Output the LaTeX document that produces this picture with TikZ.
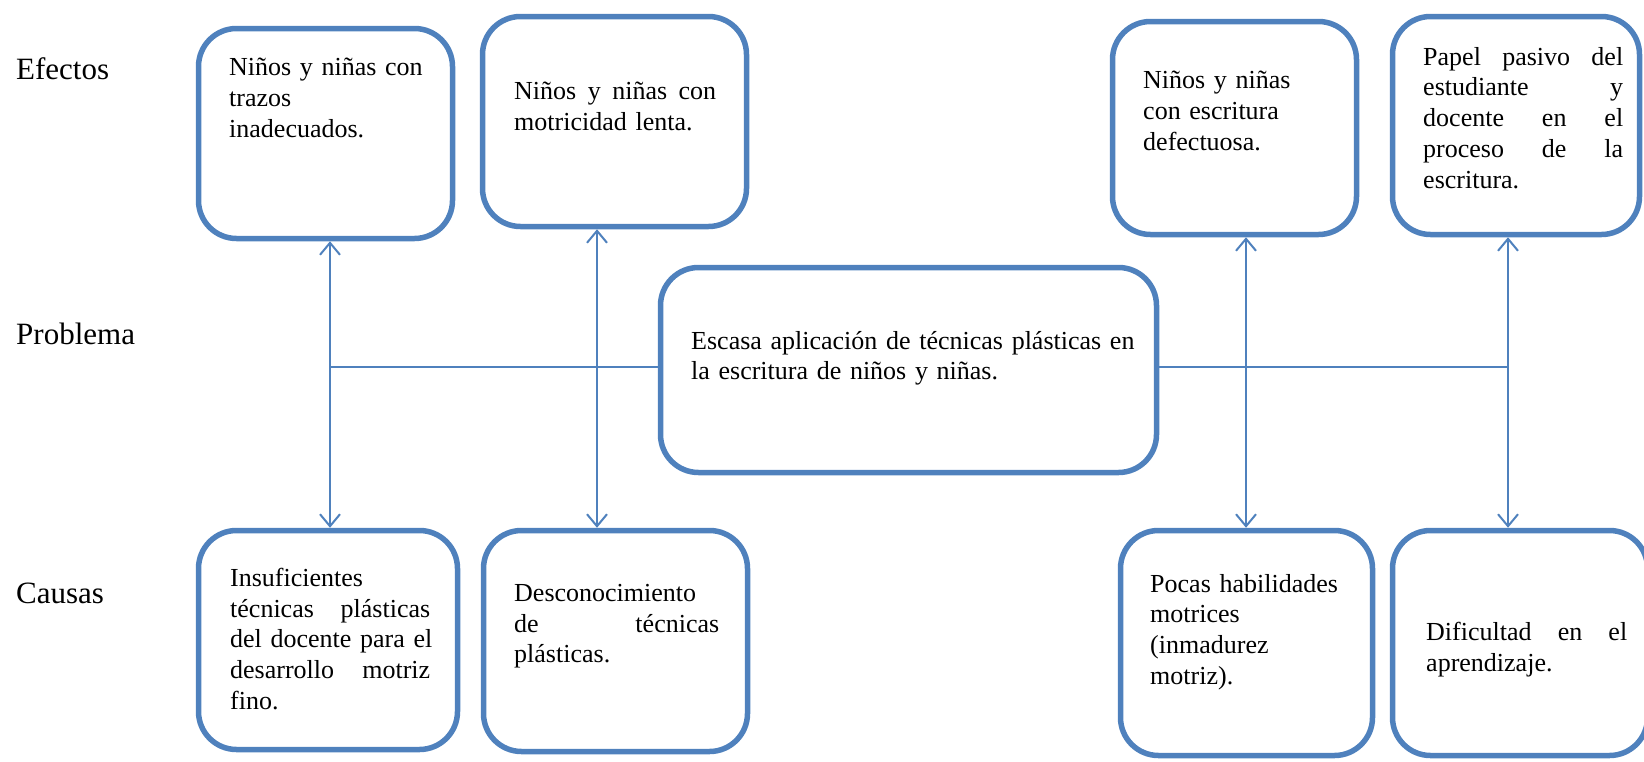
\documentclass[tikz,border=0pt]{standalone}
\usepackage{fontspec}
\setmainfont{Liberation Serif}
\usetikzlibrary{arrows.meta}
\definecolor{boxblue}{HTML}{4F81BD}

\begin{document}
\begin{tikzpicture}[x=1pt,y=-1pt,
    box/.style={draw=boxblue,line width=5.5pt,rounded corners=38pt,inner sep=0pt},
    txt/.style={anchor=north west,inner sep=0pt,align=left,font=\fontsize{26}{30.7}\selectfont},
    lab/.style={anchor=base west,inner sep=0pt,font=\fontsize{31}{36}\selectfont},
    link/.style={draw=boxblue,line width=1.8pt},
    arr/.style={link,line width=2pt,{Straight Barb[length=12pt,width=20pt]}-{Straight Barb[length=12pt,width=20pt]}}]
                \useasboundingbox (0,0) rectangle (1644,761);

                % row labels
                \node[lab] (efe) at (16,79) {Efectos};
                \node[lab] (pro) at (16,344) {Problema};
                \node[lab] (cau) at (16,603) {Causas};

                % effects
                \node[box,minimum width=254pt,minimum height=210pt] (e1) at (325.5,133.5) {};
                \node[box,minimum width=264pt,minimum height=210pt] (e2) at (614.5,121.5) {};
                \node[box,minimum width=244pt,minimum height=213pt] (e3) at (1234.5,128) {};
                \node[box,minimum width=247pt,minimum height=218pt] (e4) at (1516,125.5) {};
                \node[txt,text width=215pt] (e1t) at (229,58) {Niños y niñas con\\trazos\\inadecuados.};
                \node[txt,text width=202pt] (e2t) at (514,82) {Niños \hfill y \hfill niñas \hfill con\\motricidad lenta.};
                \node[txt,text width=190pt] (e3t) at (1143,71) {Niños y niñas\\con escritura\\defectuosa.};
                \node[txt,text width=200pt] (e4t) at (1423,47) {Papel \hfill pasivo \hfill del\\estudiante \hfill y\\docente \hfill en \hfill el\\proceso \hfill de \hfill la\\escritura.};

                % problem
                \node[box,minimum width=496pt,minimum height=205pt] (cen) at (908.5,370) {};
                \node[txt,text width=460pt] (cent) at (691,331) {Escasa aplicación de técnicas plásticas en\\la escritura de niños y niñas.};

                % causes
                \node[box,minimum width=259pt,minimum height=219pt] (c1) at (328,640) {};
                \node[box,minimum width=264pt,minimum height=221pt] (c2) at (615.5,641) {};
                \node[box,minimum width=252pt,minimum height=225pt] (c3) at (1246.5,643) {};
                \node[box,minimum width=255pt,minimum height=225pt] (c4) at (1520,643) {};
                \node[txt,text width=200pt] (c1t) at (230,568) {Insuficientes\\técnicas \hfill plásticas\\\mbox{del docente para el}\\desarrollo \hfill motriz\\fino.};
                \node[txt,text width=205pt] (c2t) at (514,584) {Desconocimiento\\de \hfill técnicas\\plásticas.};
                \node[txt,text width=200pt] (c3t) at (1150,574) {Pocas habilidades\\motrices\\(inmadurez\\motriz).};
                \node[txt,text width=201pt] (c4t) at (1426,622) {Dificultad \hfill en \hfill el\\aprendizaje.};

                % connectors
                \coordinate (a1) at (330,367);
                \coordinate (a2) at (597,367);
                \coordinate (a3) at (1246,367);
                \coordinate (a4) at (1508,367);
                \draw[link] (cen.west |- a1) -- (a1);
                \draw[link] (cen.east |- a4) -- (a4);
                \draw[arr] (e1.south -| a1) -- (c1.north -| a1);
                \draw[arr] (e2.south -| a2) -- (c2.north -| a2);
                \draw[arr] (e3.south -| a3) -- (c3.north -| a3);
                \draw[arr] (e4.south -| a4) -- (c4.north -| a4);
            \end{tikzpicture}
\end{document}
